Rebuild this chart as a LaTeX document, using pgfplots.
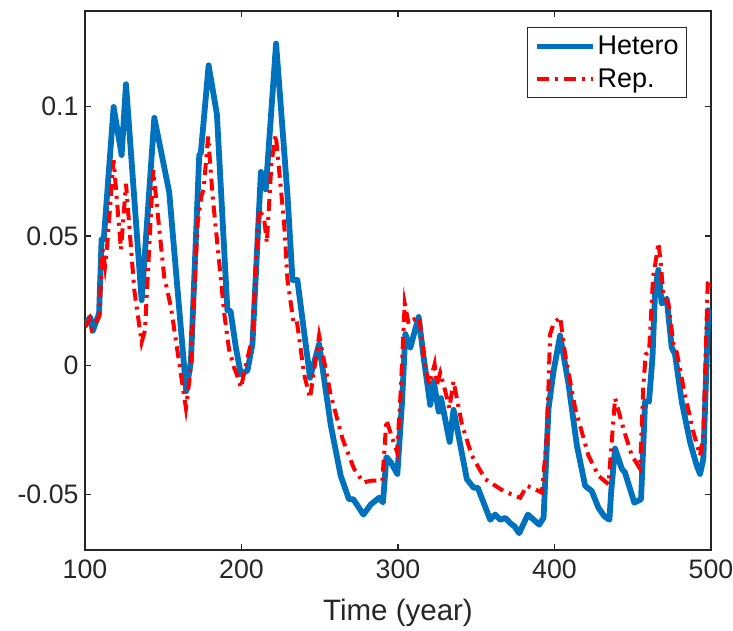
\documentclass[border=0pt]{standalone}
\usepackage{pgfplots}
\pgfplotsset{compat=1.18}
\usepackage{fontspec}
\setmainfont{Liberation Sans}
\definecolor{mblue}{RGB}{0,114,189}
\definecolor{axgray}{RGB}{38,38,38}
\begin{document}
\begin{tikzpicture}
\path[use as bounding box] (-85pt,-80pt) rectangle (648pt,550pt);
\begin{axis}[
  at={(0pt,0pt)}, anchor=south west,
  scale only axis, width=626pt, height=539pt,
  xmin=100, xmax=500, ymin=-0.0714, ymax=0.137,
  xtick={100,200,300,400,500},
  xticklabels={100,200,300,400,500},
  ytick={-0.05,0,0.05,0.1},
  yticklabels={-0.05,0,0.05,0.1},
  tick align=inside,
  major tick length=6pt,
  axis line style={axgray, line width=1.1pt},
  every tick/.style={axgray, line width=1.1pt},
  tick label style={font=\fontsize{26.7}{32}\selectfont, text=axgray},
  xticklabel style={yshift=-6pt},
  yticklabel style={xshift=-3pt},
  /pgf/number format/assume math mode=true,
  xlabel={Time (year)},
  xlabel style={font=\fontsize{29.5}{34}\selectfont, text=axgray, yshift=-14pt},
  clip=true,
  legend style={at={(0.9617,0.9703)}, anchor=north east,
    font=\fontsize{27}{32}\selectfont, draw=axgray, line width=0.8pt,
    inner xsep=6pt, inner ysep=7pt, row sep=8pt, cells={anchor=west}},
  legend cell align=left,
  legend image code/.code={\draw[#1] (0pt,0pt) -- (56pt,0pt);},
]
\addplot[mblue, line width=5.8pt, line join=round] coordinates {
(100,0.0154) (103.4,0.0187) (105,0.0134) (109,0.020) (110.6,0.0487) (112,0.0487)
(118.3,0.0999) (123.4,0.0813) (126.2,0.1087) (136.2,0.0252) (144.3,0.0957)
(153.8,0.067) (164.7,-0.010) (167.7,0.0017) (173,0.0813) (174,0.082)
(179,0.116) (184.3,0.097) (191,0.0213) (193,0.021) (196.4,0.0069)
(199.6,-0.0035) (203.8,-0.002) (207,0.0082) (212.4,0.0748) (215.5,0.068)
(222.1,0.1244) (229.4,0.0657) (232.6,0.033) (235.7,0.033) (243.8,-0.0048)
(249.6,0.0082) (257,-0.023) (263.4,-0.0427) (268.7,-0.0518) (271.5,-0.0518)
(277.9,-0.0577) (282.6,-0.0538) (287.9,-0.0512) (290.4,-0.053) (292.6,-0.0355)
(295.4,-0.0375) (299.6,-0.042) (302.6,-0.014) (304.7,0.0121) (307.9,0.0069)
(313.2,0.0187) (316.4,0.003) (320.6,-0.0153) (322.8,-0.0061) (326,-0.0179)
(327.5,-0.0127) (333,-0.0296) (335.5,-0.0172) (344,-0.044) (348.3,-0.0473)
(351,-0.0473) (358.9,-0.0597) (362.1,-0.0577) (365.3,-0.0597) (368.5,-0.059)
(371.7,-0.061) (374.5,-0.0623) (377.4,-0.0649) (383,-0.0577) (390.2,-0.0616)
(393,-0.059) (396.2,-0.0166) (399.4,-0.0022) (403.6,0.0115) (409,-0.0074)
(414.3,-0.031) (419.6,-0.0466) (423.8,-0.0486) (428.1,-0.0551) (431.9,-0.0584)
(435.1,-0.0597) (436.2,-0.049) (438.7,-0.0322) (443,-0.040) (445,-0.0414)
(451,-0.0531) (455.3,-0.0518) (457.9,-0.014) (460.4,-0.014) (462.6,0.003)
(464.3,0.0291) (466.4,0.0369) (468.5,0.0239) (471.7,0.0258) (474.9,0.0069)
(477,0.0043) (481.3,-0.014) (486.6,-0.0296) (490.9,-0.0388) (493,-0.042)
(495.1,-0.0362) (498.3,0.0213) (500.4,0.0187)
};
\addlegendentry{Hetero}
\addplot[red, line width=4pt, dash pattern=on 12pt off 6pt on 3pt off 6pt] coordinates {
(100,0.0148) (103,0.018) (104.3,0.0141) (109,0.0187) (111.3,0.0448) (112.8,0.0383)
(114,0.0448) (118.3,0.0794) (121.9,0.0526) (123,0.0448) (126.2,0.0702)
(131.5,0.0291) (136.2,0.0089) (138.3,0.0134) (143.6,0.0755) (150.6,0.0343)
(154.9,0.0226) (164.5,-0.0166) (167.2,-0.0035) (172,0.0552) (174.5,0.0657)
(175.8,0.068) (178.7,0.0885) (181.5,0.0657) (189,0.020) (192,0.0063)
(195.3,-0.0009) (197,-0.0035) (199.6,-0.0087) (203.4,0.0017) (207,0.0108)
(209.2,0.0396) (211.3,0.0604) (214.5,0.0565) (216.2,0.0474) (219.2,0.0787)
(221.9,0.0892) (227.2,0.0552) (229.4,0.033) (233.2,0.0167) (235.3,0.0174)
(240,-0.0035) (243.8,-0.0127) (249.6,0.0115) (257,-0.0114) (264.5,-0.0283)
(271.9,-0.040) (277.9,-0.0453) (282.6,-0.0446) (290,-0.0446) (292.6,-0.0211)
(296.4,-0.0283) (299.4,-0.0335) (301.5,-0.0127) (304.3,0.0239) (306.8,0.016)
(309,0.0174) (313.6,0.0187) (317.4,-0.0009) (320,-0.0074) (323.4,0.0004)
(324.9,-0.0074) (327,-0.0029) (330.2,-0.010) (332.8,-0.0166) (335.5,-0.0061)
(340.9,-0.023) (347.2,-0.0349) (355.7,-0.044) (367.4,-0.0486) (378.1,-0.0512)
(382.3,-0.0466) (385.5,-0.0473) (391.9,-0.0492) (395.1,-0.0283) (397.2,0.0121)
(399.4,0.016) (403.6,0.0187) (406.8,0.0043) (413.2,-0.0166) (421.7,-0.0349)
(428.1,-0.0427) (434.5,-0.046) (438.7,-0.0127) (444,-0.0244) (449.4,-0.0349)
(454.7,-0.040) (456.8,-0.0074) (458.3,0.0043) (460.4,0.005) (463,0.0343)
(464.5,0.0396) (466.4,0.0474) (467.9,0.0396) (469.6,0.0265) (472.8,0.0239)
(476,0.0082) (478.1,0.005) (483.4,-0.0114) (488.7,-0.0257) (493,-0.0349)
(495.1,-0.027) (497.9,0.0317) (499.4,0.033) (500.9,0.030)
};
\addlegendentry{Rep.}
\end{axis}
\end{tikzpicture}
\end{document}
